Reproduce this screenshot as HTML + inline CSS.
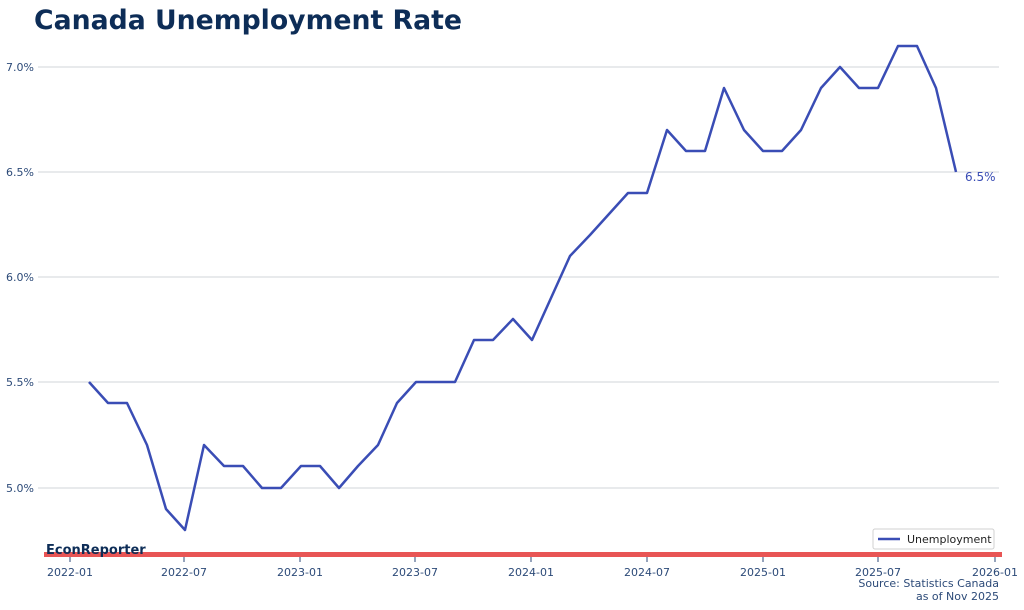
<!DOCTYPE html>
<html><head><meta charset="utf-8"><style>
html,body{margin:0;padding:0;background:#fff;width:1024px;height:610px;overflow:hidden}
text{font-family:"DejaVu Sans","Liberation Sans",sans-serif}
</style></head><body>
<svg width="1024" height="610" xmlns="http://www.w3.org/2000/svg">
<text x="34" y="29" font-size="26.7" font-weight="bold" fill="#0d2d57">Canada Unemployment Rate</text>
<g stroke="#d0d4da" stroke-width="1">
<line x1="38" y1="67" x2="999" y2="67"/><line x1="38" y1="172" x2="999" y2="172"/>
<line x1="38" y1="277" x2="999" y2="277"/><line x1="38" y1="382" x2="999" y2="382"/>
<line x1="38" y1="488" x2="999" y2="488"/>
</g>
<g font-size="11" fill="#2c4a78" text-anchor="end">
<text x="34" y="71">7.0%</text><text x="34" y="176">6.5%</text><text x="34" y="281">6.0%</text>
<text x="34" y="386">5.5%</text><text x="34" y="492">5.0%</text>
</g>
<g stroke="#2c4a78" stroke-width="1">
<line x1="70" y1="557" x2="70" y2="562"/><line x1="184" y1="557" x2="184" y2="562"/>
<line x1="300" y1="557" x2="300" y2="562"/><line x1="415" y1="557" x2="415" y2="562"/>
<line x1="531" y1="557" x2="531" y2="562"/><line x1="647" y1="557" x2="647" y2="562"/>
<line x1="763" y1="557" x2="763" y2="562"/><line x1="878" y1="557" x2="878" y2="562"/>
<line x1="995" y1="557" x2="995" y2="562"/>
</g>
<g font-size="11" fill="#2c4a78" text-anchor="middle">
<text x="70" y="576">2022-01</text><text x="184" y="576">2022-07</text><text x="300" y="576">2023-01</text>
<text x="415" y="576">2023-07</text><text x="531" y="576">2024-01</text><text x="647" y="576">2024-07</text>
<text x="763" y="576">2025-01</text><text x="878" y="576">2025-07</text><text x="995" y="576">2026-01</text>
</g>
<polyline fill="none" stroke="#3a4db5" stroke-width="2.5" stroke-linejoin="round" points="89,382 108,403 127,403 147,445 166,509 185,530 204,445 224,466 243,466 262,488 281,488 301,466 320,466 339,488 358,466 378,445 397,403 416,382 435,382 455,382 474,340 493,340 513,319 532,340 551,298 570,256 590,235 609,214 628,193 647,193 667,130 686,151 705,151 724,88 744,130 763,151 782,151 801,130 821,88 840,67 859,88 878,88 898,46 917,46 936,88 956,172"/>
<text x="965" y="181" font-size="12" fill="#3a4db5">6.5%</text>
<rect x="873" y="529" width="121" height="20" rx="2" fill="#fff" stroke="#d0d0d0"/>
<line x1="878" y1="539" x2="900" y2="539" stroke="#3a4db5" stroke-width="2.5"/>
<text x="907" y="543" font-size="11" fill="#222">Unemployment</text>
<rect x="44" y="552" width="958" height="5" fill="#e85555"/>
<text x="46" y="554" font-size="13" font-weight="bold" fill="#0d2d57">EconReporter</text>
<g font-size="11" fill="#2c4a78" text-anchor="end">
<text x="999" y="587">Source: Statistics Canada</text><text x="999" y="600">as of Nov 2025</text>
</g>
</svg>
</body></html>
